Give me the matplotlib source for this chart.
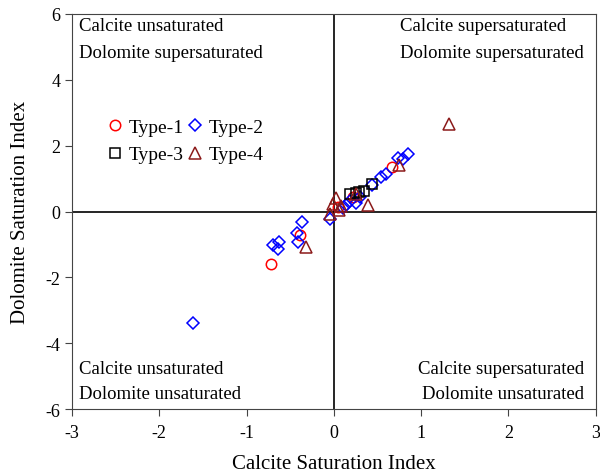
import matplotlib.pyplot as plt

plt.rcParams["font.family"] = ["Liberation Serif", "DejaVu Serif"]
plt.rcParams["axes.unicode_minus"] = False

# Saturation index data (calcite, dolomite)
type1_x = [-0.72, -0.39, 0.67, 0.05, 0.22]
type1_y = [-1.58, -0.72, 1.35, 0.15, 0.45]

type2_x = [-1.61, -0.70, -0.63, -0.64, -0.42, -0.41, -0.36, -0.04, 0.14, 0.19,
           0.25, 0.44, 0.54, 0.60, 0.73, 0.79, 0.85, 0.30, 0.10]
type2_y = [-3.39, -1.01, -0.94, -1.14, -0.64, -0.94, -0.31, -0.23, 0.20, 0.32,
           0.27, 0.80, 1.05, 1.15, 1.63, 1.60, 1.76, 0.45, 0.10]

type3_x = [0.19, 0.25, 0.29, 0.35, 0.44]
type3_y = [0.52, 0.55, 0.60, 0.62, 0.82]

type4_x = [1.32, 0.74, 0.39, 0.25, 0.02, 0.08, -0.01, -0.05, 0.06, -0.32]
type4_y = [2.65, 1.40, 0.20, 0.52, 0.40, 0.17, 0.22, -0.09, 0.04, -1.09]

fig = plt.figure(figsize=(6, 4.77), dpi=100)
ax = fig.add_axes([0.12, 0.14, 0.873, 0.829])

ms = 7.5
h1, = ax.plot(type1_x, type1_y, "o", mfc="none", mec="red", ms=ms, mew=1.1, label="Type-1")
h2, = ax.plot(type2_x, type2_y, "D", mfc="none", mec="blue", ms=ms - 1, mew=1.1, label="Type-2")
h3, = ax.plot(type3_x, type3_y, "s", mfc="none", mec="black", ms=ms - 0.5, mew=1.1, label="Type-3")
h4, = ax.plot(type4_x, type4_y, "^", mfc="none", mec="#8b1a1a", ms=ms + 1, mew=1.1, label="Type-4")

ax.axhline(0, color="black", lw=1.2, zorder=0)
ax.axvline(0, color="black", lw=1.2, zorder=0)

ax.set_xlim(-3, 3)
ax.set_ylim(-6, 6)
ax.set_xticks([-3, -2, -1, 0, 1, 2, 3])
ax.set_yticks([-6, -4, -2, 0, 2, 4, 6])
ax.tick_params(direction="out", length=5, labelsize=13, color="#444444")
ax.tick_params(axis="x", pad=6)
for s in ax.spines.values():
    s.set_color("#444444")

ax.set_xlabel("Calcite Saturation Index", fontsize=15, labelpad=9)
ax.set_ylabel("Dolomite Saturation Index", fontsize=15, labelpad=11)

fs = 13.5
ax.text(-2.92, 5.65, "Calcite unsaturated", fontsize=fs, va="center")
ax.text(-2.92, 4.83, "Dolomite supersaturated", fontsize=fs, va="center")
ax.text(0.76, 5.65, "Calcite supersaturated", fontsize=fs, va="center")
ax.text(0.76, 4.83, "Dolomite supersaturated", fontsize=fs, va="center")
ax.text(-2.92, -4.77, "Calcite unsaturated", fontsize=fs, va="center")
ax.text(-2.92, -5.53, "Dolomite unsaturated", fontsize=fs, va="center")
ax.text(2.87, -4.77, "Calcite supersaturated", fontsize=fs, va="center", ha="right")
ax.text(2.87, -5.53, "Dolomite unsaturated", fontsize=fs, va="center", ha="right")

# row-wise legend order
ax.legend([h1, h3, h2, h4], ["Type-1", "Type-3", "Type-2", "Type-4"],
          ncol=2, frameon=False, fontsize=14, loc="upper left",
          bbox_to_anchor=(0.045, 0.755), handletextpad=0.1, columnspacing=0.0,
          handlelength=1.2, borderaxespad=0, labelspacing=0.5)

plt.savefig("out.png")
